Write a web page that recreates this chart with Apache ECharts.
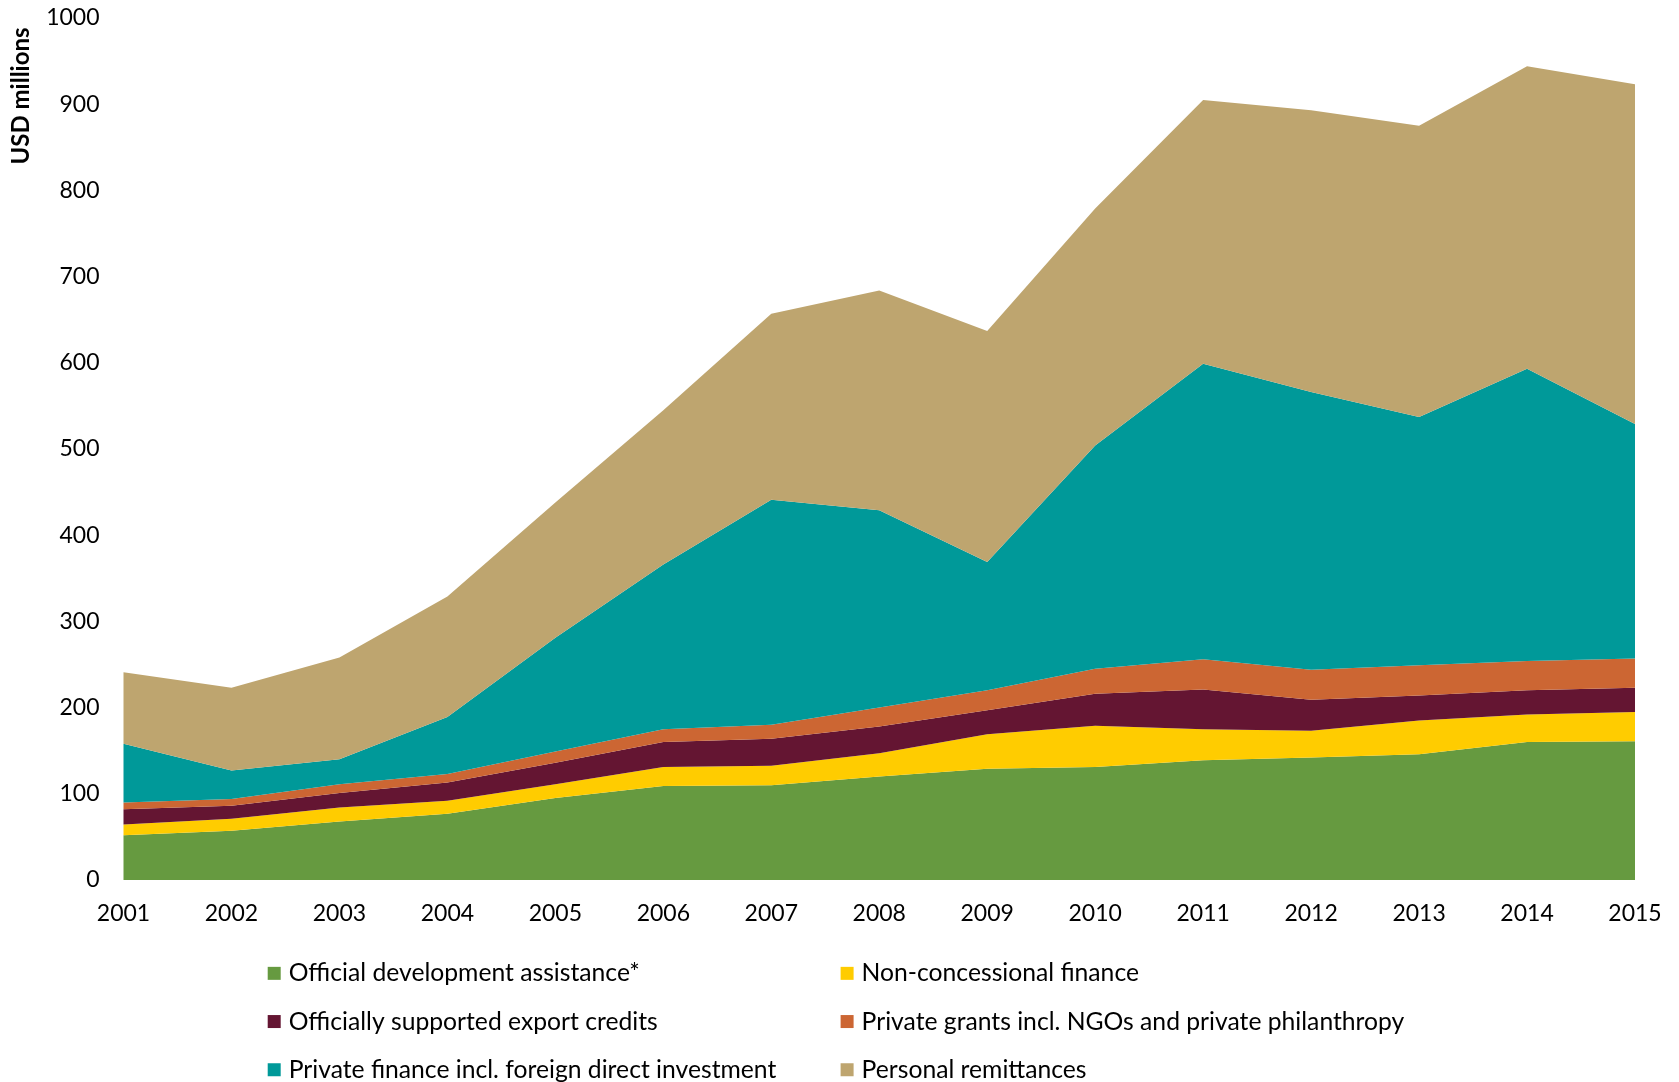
<!DOCTYPE html>
<html>
<head>
<meta charset="utf-8">
<script src="https://cdn.jsdelivr.net/npm/echarts@6/dist/echarts.min.js"></script>
<style>
html,body{margin:0;padding:0;background:#fff;}
#chart{width:1679px;height:1082px;}
</style>
</head>
<body>
<div id="chart"></div>
<script>
const years = ['2001','2002','2003','2004','2005','2006','2007','2008','2009','2010','2011','2012','2013','2014','2015'];
const oda = [52, 57, 68, 77, 95, 109, 110, 120, 129, 131, 139, 142, 146, 160, 161];
const nonConcessional = [12.5, 14, 16, 15, 16, 22, 22.5, 27, 40, 48, 36, 31, 39, 32, 34];
const exportCredits = [17.5, 15, 17, 21, 25, 29, 31.5, 31, 28, 37, 46, 36, 29, 28, 28];
const privateGrants = [8, 8, 10, 10, 13, 15, 16, 22, 23, 29, 35, 35, 35, 34, 34];
const privateFinance = [68, 33, 29, 66, 132, 191, 261, 229, 149, 259, 343, 322, 288, 339, 272];
const remittances = [83, 96, 118, 140, 157, 179, 216, 255, 268, 275, 306, 327, 338, 351, 394];

const names = [
  'Official development assistance*',
  'Non-concessional finance',
  'Officially supported export credits',
  'Private grants incl. NGOs and private philanthropy',
  'Private finance incl. foreign direct investment',
  'Personal remittances'
];
const colors = ['#669A40', '#FFCC00', '#641532', '#CC6633', '#009999', '#BEA56F'];
const values = [oda, nonConcessional, exportCredits, privateGrants, privateFinance, remittances];

const FONT = 'Lato';
const LEG_FONT = 24.7;
// legend item placement: column left edges and row centres
const legCols = [267.7, 840.6];
const legRows = [973.2, 1021.4, 1069.6];

const legends = names.map((n, i) => ({
  orient: 'horizontal',
  left: legCols[i % 2],
  top: legRows[Math.floor(i / 2)] - LEG_FONT / 2,
  padding: 0,
  itemWidth: 13, itemHeight: 13,
  icon: 'rect',
  selectedMode: false,
  textStyle: {fontSize: LEG_FONT, color: '#000', fontFamily: FONT, padding: [0, 0, 0, 3]},
  data: [n]
}));

const chart = echarts.init(document.getElementById('chart'), null, {renderer: 'canvas'});
chart.setOption({
  animation: false,
  backgroundColor: '#ffffff',
  textStyle: {fontFamily: FONT},
  grid: {left: 123.5, right: 44, top: 18, bottom: 202, containLabel: false},
  xAxis: {
    type: 'category',
    boundaryGap: false,
    data: years,
    axisLine: {show: false},
    axisTick: {show: false},
    axisLabel: {fontSize: 23, color: '#000', margin: 22, fontFamily: FONT}
  },
  yAxis: {
    type: 'value',
    min: 0, max: 1000, interval: 100,
    axisLine: {show: false},
    axisTick: {show: false},
    splitLine: {show: false},
    axisLabel: {fontSize: 23, color: '#000', margin: 24, fontFamily: FONT, formatter: v => String(v)}
  },
  legend: legends,
  graphic: [{
    type: 'text',
    x: 21.5, y: 96,
    rotation: Math.PI / 2,
    style: {
      text: 'USD millions',
      fontFamily: FONT, fontSize: 24, fontWeight: 'bold', fill: '#000',
      align: 'center', verticalAlign: 'middle'
    }
  }],
  series: names.map((n, i) => ({
    name: n,
    type: 'line',
    stack: 'total',
    data: values[i],
    showSymbol: false,
    symbol: 'none',
    lineStyle: {width: 0},
    itemStyle: {color: colors[i]},
    areaStyle: {color: colors[i], opacity: 1}
  }))
});
</script>
</body>
</html>
